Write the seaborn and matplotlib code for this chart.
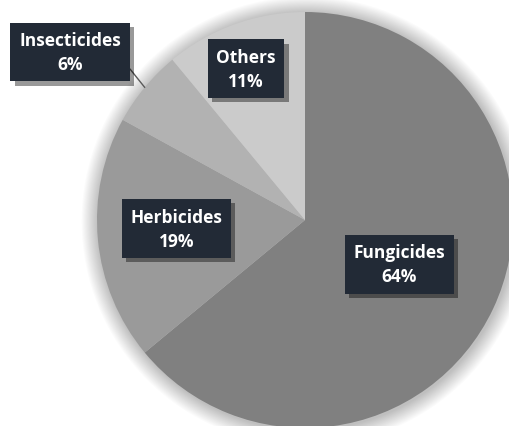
import numpy as np
import matplotlib
matplotlib.use("Agg")
import matplotlib.pyplot as plt
import matplotlib.patheffects as pe
from matplotlib.patches import Circle
import seaborn as sns

categories = ["Fungicides", "Herbicides", "Insecticides", "Others"]
shares = [64, 19, 6, 11]
pct_labels = ["64%", "19%", "6%", "11%"]

sns.set_theme(style="white")
plt.rcParams['font.family'] = ['Open Sans', 'DejaVu Sans']

colors = ["#808080", "#9a9a9a", "#b2b2b2", "#cbcbcb"]
box_color = "#222a36"

W, H = 509, 427
fig = plt.figure(figsize=(W / 100, H / 100), dpi=100)
fig.patch.set_facecolor("white")
ax = fig.add_axes([0, 0, 1, 1])

cx, cy, R = 305, 221, 208

# soft shadow around pie
for i in range(16):
    r = 1.0 + 0.005 * (16 - i)
    ax.add_patch(Circle((0.006, -0.006), r, facecolor="black", alpha=0.014,
                        edgecolor="none", zorder=0))

wedges, _ = ax.pie(shares, colors=colors, startangle=90, counterclock=False,
                   wedgeprops=dict(linewidth=0), radius=1.0)
ax.set_xlim(-cx / R, (W - cx) / R)
ax.set_ylim(-(H - cy) / R, cy / R)
ax.set_aspect("auto")
ax.axis("off")

# label placement (radius, angle offset) per wedge, in data units
label_pos = {
    "Fungicides": (0.5, 0.0),
    "Herbicides": (0.62, -1.5),
    "Others": (0.78, 1.5),
}
insect_xy = ((70 - cx) / R, (cy - 53) / R)

def mid_angle(w):
    return np.deg2rad((w.theta1 + w.theta2) / 2)

for w, cat, pct in zip(wedges, categories, pct_labels):
    ang = mid_angle(w)
    if cat in label_pos:
        r, da = label_pos[cat]
        a = ang + np.deg2rad(da)
        x, y = r * np.cos(a), r * np.sin(a)
    else:
        x, y = insect_xy
        ex, ey = np.cos(ang), np.sin(ang)
        ax.plot([ex, (130 - cx) / R], [ey, (cy - 70) / R], color="#5a5a5a",
                lw=1.0, zorder=3)
    t = ax.text(x, y, f"{cat}\n{pct}", ha="center", va="center",
                fontsize=12.5, fontweight="bold", color="white",
                linespacing=1.4,
                bbox=dict(boxstyle="square,pad=0.5", facecolor=box_color,
                          edgecolor="none"), zorder=5)
    t.get_bbox_patch().set_path_effects([
        pe.SimplePatchShadow(offset=(3, -3), shadow_rgbFace="black", alpha=0.4),
        pe.Normal()])

fig.savefig("out.png", dpi=100)
